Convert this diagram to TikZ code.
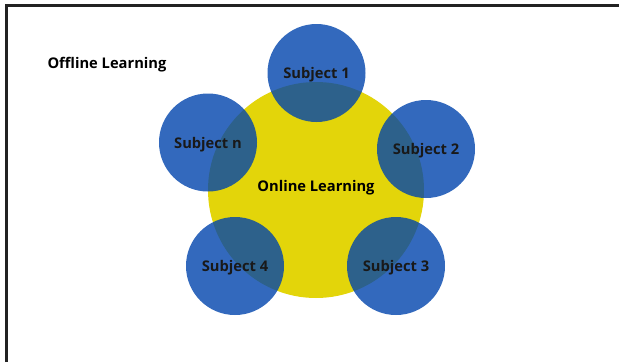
\documentclass[tikz,border=0pt]{standalone}
\usepackage{fontspec}
\setmainfont{Open Sans}
\usepackage{xcolor}
\definecolor{colorOnline}{RGB}{227,213,10}
\definecolor{colorSubject}{RGB}{0,68,172}
\definecolor{colorFrame}{RGB}{34,34,34}
\usepackage{tikz}
\usetikzlibrary{positioning}
\tikzset{subject/.style={circle, minimum size=98pt, inner sep=0pt, text depth=0pt, fill=colorSubject, fill opacity=0.8, text opacity=1, text=black!90}}

\begin{document}
\begin{tikzpicture}[x=1pt, y=-1pt, every node/.style={font=\fontsize{14.7}{17}\selectfont\bfseries}]
\useasboundingbox (0,0) rectangle (619,362);
\draw [colorFrame, line width=3pt] (6.5,362) -- (6.5,5.5) -- (619,5.5);
\node[circle, minimum size=216pt, inner sep=0pt, fill=colorOnline] (online) at (316,190) {};
\node[text depth=0pt] (onlinetext) at (316,186) {Online Learning};
\node[anchor=west] (offline) at (44,65) {Offline Learning};
\node[subject] (s1) at (316.5,73) {Subject 1};
\node[subject] (s2) at (426,149) {Subject 2};
\node[subject] (s3) at (396,266) {Subject 3};
\node[subject] (s4) at (235,266) {Subject 4};
\node[subject] (sn) at (208,142.5) {Subject n};
\end{tikzpicture}
\end{document}
